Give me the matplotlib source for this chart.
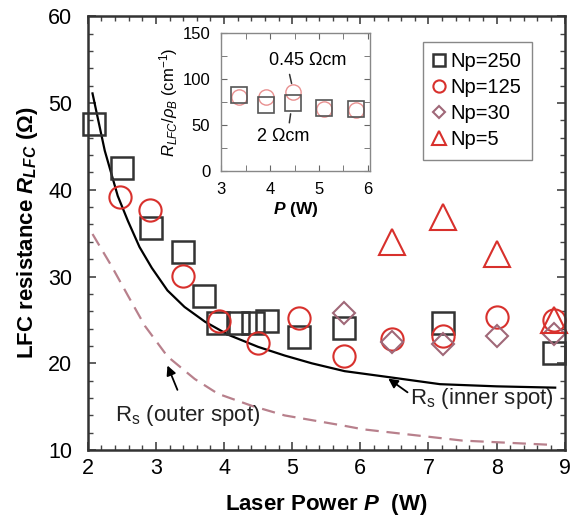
import numpy as np
import matplotlib
matplotlib.use("Agg")
import matplotlib.pyplot as plt
from matplotlib.ticker import MultipleLocator

plt.rcParams['font.family'] = ['Liberation Sans', 'DejaVu Sans']
plt.rcParams['mathtext.fontset'] = 'custom'
plt.rcParams['mathtext.rm'] = 'Liberation Sans'
plt.rcParams['mathtext.it'] = 'Liberation Sans:italic'
plt.rcParams['mathtext.bf'] = 'Liberation Sans:bold'
plt.rcParams['mathtext.bfit'] = 'Liberation Sans:bold:italic'

# main data
p250 = [2.09, 2.5, 2.93, 3.4, 3.7, 3.91, 4.2, 4.42, 4.63, 5.1, 5.76, 7.21, 8.84]
r250 = [47.6, 42.5, 35.6, 32.8, 27.8, 24.6, 24.6, 24.6, 24.9, 23.0, 24.1, 24.7, 21.2]
p125 = [2.48, 2.91, 3.4, 3.93, 4.5, 5.1, 5.76, 6.46, 7.21, 8.0, 8.84]
r125 = [39.2, 37.7, 30.1, 24.9, 22.4, 25.2, 20.9, 22.8, 23.1, 25.3, 25.0]
p30 = [5.76, 6.46, 7.21, 8.0, 8.84]
r30 = [25.8, 22.5, 22.2, 23.1, 23.4]
p5 = [6.46, 7.21, 8.0, 8.84]
r5 = [34.0, 36.9, 32.6, 25.0]

# Rs curves
p_inner = [2.07, 2.25, 2.44, 2.59, 2.76, 2.94, 3.17, 3.42, 3.72, 4.06, 4.5, 4.89,
           5.29, 5.77, 6.43, 7.17, 8.0, 8.86]
rs_inner = [51.1, 44.5, 39.3, 36.4, 33.4, 31.0, 28.4, 26.5, 24.8, 23.3, 21.9, 20.9,
            20.0, 19.1, 18.4, 17.6, 17.35, 17.2]
p_outer = [2.07, 2.35, 2.59, 2.84, 3.17, 3.57, 3.91, 4.41, 4.89, 5.77, 6.04, 7.5, 8.83]
rs_outer = [34.9, 31.2, 27.8, 24.3, 20.8, 18.2, 16.5, 15.1, 14.0, 12.8, 12.4, 11.1, 10.6]

# inset data
pi_250 = [3.37, 3.92, 4.46, 5.1, 5.77]
ri_250 = [82.6, 71.7, 73.9, 68.5, 67.4]
pi_125 = [3.37, 3.92, 4.46, 5.1, 5.77]
ri_125 = [80.0, 80.4, 85.9, 67.0, 66.0]

dark = '#333333'
red = '#d8302c'
mauve = '#a06878'
dash = '#b8808c'

fig = plt.figure(figsize=(5.81, 5.21), dpi=100)
ax = fig.add_axes([0.151, 0.136, 0.821, 0.833])

ax.plot(p_inner, rs_inner, '-', color='black', lw=1.6)
ax.plot(p_outer, rs_outer, '--', color=dash, lw=1.6, dashes=(6, 3.5))

ax.plot(p250, r250, 's', ms=16.5, mfc='none', mec=dark, mew=1.8, label='Np=250', clip_on=False)
ax.plot(p125, r125, 'o', ms=16, mfc='none', mec=red, mew=1.5, label='Np=125', clip_on=False)
ax.plot(p30, r30, 'D', ms=11, mfc='none', mec=mauve, mew=1.5, label='Np=30', clip_on=False)
ax.plot(p5, r5, '^', ms=19, mfc='none', mec=red, mew=1.5, label='Np=5', clip_on=False)

ax.set_xlim(2, 9)
ax.set_ylim(10, 60)
ax.xaxis.set_major_locator(MultipleLocator(1))
ax.xaxis.set_minor_locator(MultipleLocator(0.2))
ax.yaxis.set_major_locator(MultipleLocator(10))
ax.yaxis.set_minor_locator(MultipleLocator(2))
ax.tick_params(which='both', direction='in', top=True, right=True, labelsize=15.5, color='#444444')
ax.tick_params(which='major', length=6, width=1.2)
ax.tick_params(which='minor', length=3.5, width=1)
ax.tick_params(axis='x', which='major', pad=6)
ax.tick_params(axis='y', which='major', pad=11)
for s in ax.spines.values():
    s.set_linewidth(1.8)
    s.set_color('#333333')

ax.set_xlabel(r'Laser Power $\mathbfit{P}$  (W)', fontsize=16, fontweight='bold', labelpad=9)
ax.set_ylabel(r'LFC resistance $\mathbfit{R}_{\mathbfit{LFC}}$ (Ω)', fontsize=16, fontweight='bold', labelpad=6)

leg = ax.legend(loc='upper left', bbox_to_anchor=(0.681, 0.963), fontsize=14.5, markerscale=0.55,
                handlelength=0.6, handletextpad=0.3, borderpad=0.5, labelspacing=0.35,
                fancybox=False, edgecolor='#888888', framealpha=1)
leg.get_frame().set_linewidth(1.0)

ax.annotate(r'R$_{\rm s}$ (outer spot)', xy=(3.17, 19.75), xytext=(3.47, 14.0),
            fontsize=16, ha='center', va='center', color='#222222',
            arrowprops=dict(arrowstyle='-|>', color='black', lw=1.3, mutation_scale=14,
                            shrinkA=8, shrinkB=0))
ax.annotate(r'R$_{\rm s}$ (inner spot)', xy=(6.41, 18.25), xytext=(7.79, 16.0),
            fontsize=16, ha='center', va='center', color='#222222',
            arrowprops=dict(arrowstyle='-|>', color='black', lw=1.3, mutation_scale=14,
                            shrinkA=0, shrinkB=0, relpos=(0.0, 0.65)))

# inset
ins = fig.add_axes([0.381, 0.672, 0.256, 0.265])
ins.plot(pi_125, ri_125, 'o', ms=11, mfc='none', mec='#e89090', mew=1.0)
ins.plot(pi_250, ri_250, 's', ms=11.5, mfc='none', mec='#555555', mew=1.2)
ins.set_xlim(3, 6.05)
ins.set_ylim(0, 150)
ins.xaxis.set_major_locator(MultipleLocator(1))
ins.xaxis.set_minor_locator(MultipleLocator(0.5))
ins.yaxis.set_major_locator(MultipleLocator(50))
ins.yaxis.set_minor_locator(MultipleLocator(25))
ins.tick_params(which='both', direction='in', top=True, right=True, labelsize=12, color='#666666')
ins.tick_params(which='major', length=4, pad=8)
ins.tick_params(which='minor', length=4)
for s in ins.spines.values():
    s.set_linewidth(1.0)
    s.set_color('#888888')
ins.set_xlabel(r'$\mathbfit{P}$ (W)', fontsize=12.5, fontweight='bold', labelpad=2)
ins.set_ylabel(r'$R_{LFC}/\rho_B$ (cm$^{-1}$)', fontsize=12, labelpad=2)

ins.annotate('0.45 Ωcm', xy=(4.44, 95), xytext=(4.77, 120), fontsize=13, ha='center', va='center',
             arrowprops=dict(arrowstyle='-', color='#333333', lw=1.1, shrinkA=2, shrinkB=0,
                             relpos=(0.25, 0.0)))
ins.annotate('2 Ωcm', xy=(4.42, 62), xytext=(4.27, 37), fontsize=13, ha='center', va='center',
             arrowprops=dict(arrowstyle='-', color='#333333', lw=1.1, shrinkA=2, shrinkB=0,
                             relpos=(0.6, 1.0)))

fig.savefig('out.png', dpi=100)
